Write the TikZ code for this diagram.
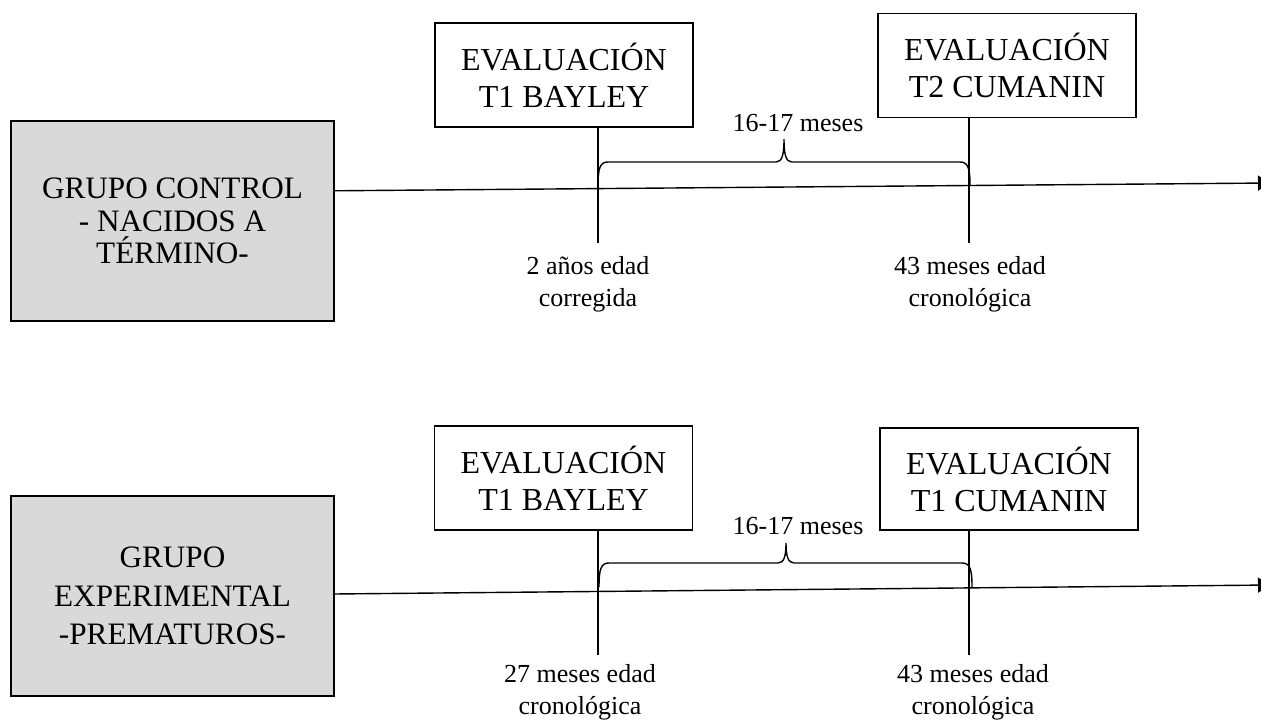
\documentclass[tikz,border=0pt]{standalone}
\usepackage{fontspec}
\setmainfont{Liberation Serif}
\usepackage{tikz}
\usetikzlibrary{positioning, arrows.meta, calc}
\definecolor{grupogray}{RGB}{217,217,217}

% llave: #1 izquierda, #2 punta, #3 derecha (x); #4 base, #5 barra, #6 punta (y)
\newcommand{\llave}[6]{%
  \draw[linea] (#1,#4) .. controls (#1,#5+6) and (#1+2,#5) .. (#1+10,#5)
    -- (#2-8,#5) .. controls (#2-2,#5) and (#2,#5-7) .. (#2,#6)
    .. controls (#2,#5-7) and (#2+2,#5) .. (#2+8,#5)
    -- (#3-10,#5) .. controls (#3-2,#5) and (#3,#5+6) .. (#3,#4);}

\begin{document}
\begin{tikzpicture}[x=0.5pt, y=-0.5pt,
    box/.style={rectangle, draw, line width=0.7pt, align=center, inner sep=0pt},
    grupobox/.style={box, fill=grupogray, minimum width=161.5pt, minimum height=100pt, font=\fontsize{15.6}{16.3}\selectfont},
    evalbox/.style={box, fill=white, minimum width=129pt, minimum height=52pt, font=\fontsize{16}{18.5}\selectfont},
    nota/.style={align=center, font=\fontsize{13}{16}\selectfont},
    linea/.style={line width=0.7pt},
    eje/.style={linea, -{Triangle[length=6pt, width=7.5pt]}}
]
\useasboundingbox (0,0) rectangle (1261,722);

% grupo control
\node[grupobox] (control) at (172.5,221) {GRUPO CONTROL\\- NACIDOS A\\TÉRMINO-};
\node[evalbox] (evA) at (564,75) {EVALUACIÓN\\T1 BAYLEY};
\node[evalbox] (evB) at (1007,65.5) {EVALUACIÓN\\T2 CUMANIN};
\coordinate (finA) at (1270,183);
\coordinate (tA) at (598,243);
\coordinate (tB) at (969,243);
\draw[eje] ($(control.north east)!0.35!(control.south east)$) -- (finA);
\draw[linea] (evA.south -| tA) -- (tA);
\draw[linea] (evB.south -| tB) -- (tB);
\llave{598}{784}{970}{186}{162}{139}
\node[nota] (mesesA) at (798,123) {16-17 meses};
\node[nota] (edadA) at (588,284) {2 años edad\\corregida};
\node[nota] (edadB) at (970,284) {43 meses edad\\cronológica};

% grupo experimental
\node[grupobox, font=\fontsize{15.6}{19.3}\selectfont] (exper) at (172.5,596) {GRUPO\\EXPERIMENTAL\\-PREMATUROS-};
\node[evalbox] (evC) at (563.5,478) {EVALUACIÓN\\T1 BAYLEY};
\node[evalbox, minimum height=51pt] (evD) at (1009,479) {EVALUACIÓN\\T1 CUMANIN};
\coordinate (finB) at (1270,585);
\coordinate (tC) at (598,655);
\coordinate (tD) at (969,655);
\draw[eje] ($(exper.north east)!0.49!(exper.south east)$) -- (finB);
\draw[linea] (evC.south -| tC) -- (tC);
\draw[linea] (evD.south -| tD) -- (tD);
\llave{599}{786}{972}{587}{563}{543}
\node[nota] (mesesB) at (798,526) {16-17 meses};
\node[nota] (edadC) at (580,692) {27 meses edad\\cronológica};
\node[nota] (edadD) at (973,692) {43 meses edad\\cronológica};
\end{tikzpicture}
\end{document}
